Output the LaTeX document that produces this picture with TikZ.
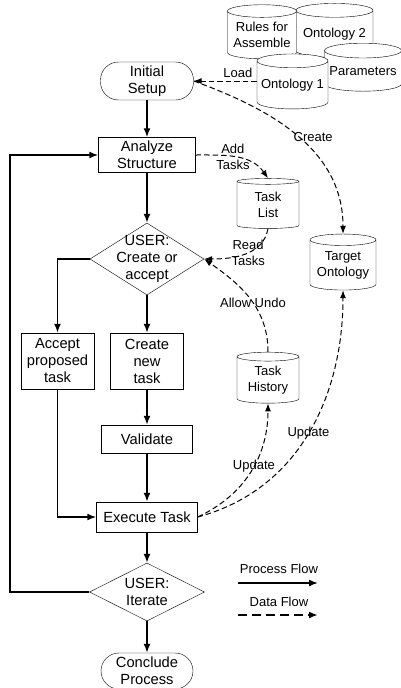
\documentclass[tikz,border=0pt]{standalone}
\usepackage{fontspec}
\setmainfont{Liberation Sans}
\usetikzlibrary{arrows.meta,shapes.geometric,positioning}

\begin{document}
\begin{tikzpicture}[
		x=1pt, y=-1pt,
		font=\fontsize{13}{16}\selectfont,
		big/.style={font=\fontsize{14.7}{17}\selectfont},
		proc/.style={draw, big, align=center, inner sep=1pt},
		term/.style={draw, big, rounded corners=18pt, align=center, inner sep=1pt},
		decide/.style={draw, diamond, inner sep=0pt},
		store/.style={draw, fill=white, cylinder, shape border rotate=90, aspect=0.22, align=center, inner sep=0pt},
		flow/.style={-{Latex[length=9pt,width=7pt]}, line width=1.6pt},
		data/.style={-{Latex[length=8pt,width=6pt]}, dash pattern=on 5.5pt off 3pt, line width=1pt},
	]
		\useasboundingbox (0,0) rectangle (401,688);
		
		% process column
		\node (init) [term, minimum width=93pt, minimum height=38pt] at (147,81) {Initial\\Setup};
		\node (analyze) [proc, minimum width=97pt, minimum height=35pt] at (147,155) {Analyze\\Structure};
		\node (choose) [decide, minimum width=114pt, minimum height=72pt,
			label={[big, align=center]center:USER:\\Create or\\accept}] at (147,259) {};
		\node (accept) [proc, minimum width=73pt, minimum height=56pt] at (57.5,361) {Accept\\proposed\\task};
		\node (create) [proc, minimum width=73pt, minimum height=56pt] at (147,361) {Create\\new\\task};
		\node (validate) [proc, minimum width=91pt, minimum height=28pt] at (147,439) {Validate};
		\node (execute) [proc, minimum width=101pt, minimum height=30pt] at (147,517) {Execute Task};
		\node (iterate) [decide, minimum width=115pt, minimum height=58pt,
			label={[big, align=center]center:USER:\\Iterate}] at (147,592) {};
		\node (conclude) [term, minimum width=92pt, minimum height=36pt] at (147,671) {Conclude\\Process};
		\coordinate (loop) at (10,592);
		
		% data stores
		\node (ont2) [store, minimum width=77pt, minimum height=54pt] at (334.5,34) {Ontology 2};
		\node (rules) [store, minimum width=69pt, minimum height=54pt] at (262,35) {Rules for\\Assemble};
		\node (params) [store, minimum width=77pt, minimum height=48pt] at (363,71) {Parameters};
		\node (ont1) [store, minimum width=71pt, minimum height=55pt] at (292.5,85) {Ontology 1};
		\node (tasklist) [store, minimum width=62pt, minimum height=50pt] at (268,205) {Task\\List};
		\node (target) [store, minimum width=66pt, minimum height=56pt] at (343,265) {Target\\Ontology};
		\node (history) [store, minimum width=62pt, minimum height=51pt] at (268,380) {Task\\History};
		
		\draw[flow] (init) -- (analyze);
		\draw[flow] (analyze) -- (choose);
		\draw[flow] (choose.west) -| (accept);
		\draw[flow] (choose) -- (create);
		\draw[flow] (create) -- (validate);
		\draw[flow] (validate) -- (execute);
		\draw[flow] (accept) |- (execute);
		\draw[flow] (execute) -- (iterate);
		\draw[flow] (iterate) -- (conclude);
		\draw[flow] (iterate.west) -- (loop) |- (analyze.west);
		
		\draw[data] (init.east -| ont1.west) -- node[above, pos=0.3] {Load} (init.east);
		\draw[data] (init.east) to[out=-20, in=90] node[pos=0.5, right=-8pt] {Create} (target.north);
		\draw[data] (analyze.east) to[out=0, in=125] node[pos=0.45, align=center] {Add\\Tasks} (tasklist.north);
		\draw[data] (tasklist.south) to[out=-100, in=0] node[pos=0.45, align=center] {Read\\Tasks} (choose.east);
		\draw[data] (history.north) to[out=90, in=-35] node[pos=0.45] {Allow Undo} (choose.east);
		\draw[data] (execute.east) to[out=25, in=-90] node[pos=0.55] {Update} (history.south);
		\draw[data] (execute.east) to[out=15, in=-90] node[pos=0.5] {Update} (target.south);
		
		% legend
		\node (procleg) at (279,569) {Process Flow};
		\coordinate (pf1) at (238,583);
		\coordinate (pf2) at (318,583);
		\draw[flow] (pf1) -- (pf2);
		\node (dataleg) at (279,602) {Data Flow};
		\coordinate (df1) at (238,615);
		\coordinate (df2) at (318,615);
		\draw[-{Latex[length=9pt,width=7pt]}, line width=2.2pt, dash pattern=on 9pt off 5pt] (df1) -- (df2);
	\end{tikzpicture}
\end{document}
